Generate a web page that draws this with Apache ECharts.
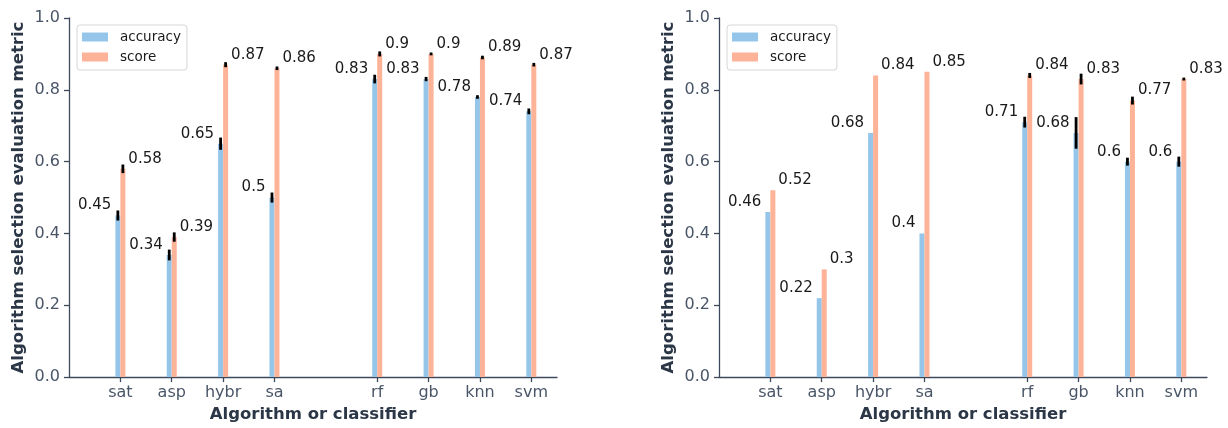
<!DOCTYPE html>
<html>
<head>
<meta charset="utf-8">
<script src="https://cdn.jsdelivr.net/npm/echarts@6/dist/echarts.min.js"></script>
<style>
  html, body { margin: 0; padding: 0; background: #ffffff; }
  #chart { width: 1228px; height: 428px; }
</style>
</head>
<body>
<div id="chart"></div>
<script>
// Two groups on the x axis: selection algorithms, then classifiers (one empty slot between them)
const algorithms = ['sat', 'asp', 'hybr', 'sa'];
const classifiers = ['rf', 'gb', 'knn', 'svm'];

// Left panel
const leftAccuracy    = [0.45, 0.34, 0.65, 0.50, 0.83, 0.83, 0.78, 0.74];
const leftAccuracyErr = [0.014, 0.015, 0.017, 0.014, 0.012, 0.006, 0.005, 0.008];
const leftScore       = [0.58, 0.39, 0.87, 0.86, 0.90, 0.90, 0.89, 0.87];
const leftScoreErr    = [0.012, 0.013, 0.007, 0.005, 0.007, 0.004, 0.005, 0.005];

// Right panel
const rightAccuracy    = [0.46, 0.22, 0.68, 0.40, 0.71, 0.68, 0.60, 0.60];
const rightAccuracyErr = [0, 0, 0, 0, 0.015, 0.044, 0.011, 0.014];
const rightScore       = [0.52, 0.30, 0.84, 0.85, 0.84, 0.83, 0.77, 0.83];
const rightScoreErr    = [0, 0, 0, 0, 0.007, 0.015, 0.011, 0.004];

const yTicks = [0.0, 0.2, 0.4, 0.6, 0.8, 1.0];

const seriesNames = ['accuracy', 'score'];
const yTitle = 'Algorithm selection evaluation metric';
const xTitle = 'Algorithm or classifier';

// Slot of each category on the numeric x axis
const categories = algorithms.concat(classifiers);
const slots = algorithms.map((_, i) => i + 1)
  .concat(classifiers.map((_, i) => algorithms.length + 2 + i));
const slotName = {};
slots.forEach((s, i) => { slotName[s] = categories[i]; });
const xMax = slots[slots.length - 1] + 0.5;

const BLUE = '#95c6ea';
const ORANGE = '#fdb398';
const AXIS = '#3e4a5b';
const TICK_TEXT = '#4a5668';
const TITLE_TEXT = '#2b3646';
const FONT = 'DejaVu Sans';
const BAR_W = 5;

const panels = [
  { acc: leftAccuracy, accErr: leftAccuracyErr, sc: leftScore, scErr: leftScoreErr, left: 69 },
  { acc: rightAccuracy, accErr: rightAccuracyErr, sc: rightScore, scErr: rightScoreErr, left: 719 }
];

const grids = [], xAxes = [], yAxes = [], legends = [], series = [];

function fmt(v) { return String(+v.toFixed(2)); }

panels.forEach((p, k) => {
  grids.push({ left: p.left, top: 18, width: 488, height: 362, containLabel: false });
  xAxes.push({
    type: 'value', gridIndex: k, min: 0, max: xMax,
    name: xTitle, nameLocation: 'middle', nameGap: 28,
    nameTextStyle: { fontFamily: FONT, fontSize: 16.5, fontWeight: 'bold', color: TITLE_TEXT },
    splitLine: { show: false },
    axisLine: { show: true, onZero: false, lineStyle: { color: AXIS, width: 1.3 } },
    axisTick: { show: true, length: 5, customValues: slots, lineStyle: { color: AXIS, width: 1.3 } },
    axisLabel: {
      customValues: slots, margin: 8,
      fontFamily: FONT, fontSize: 16, color: TICK_TEXT,
      formatter: v => slotName[v] || ''
    }
  });
  yAxes.push({
    type: 'value', gridIndex: k, min: 0, max: 1, interval: 0.2,
    name: yTitle, nameLocation: 'middle', nameGap: 42, nameRotate: 90,
    nameTextStyle: { fontFamily: FONT, fontSize: 16.5, fontWeight: 'bold', color: TITLE_TEXT },
    splitLine: { show: false },
    axisLine: { show: true, lineStyle: { color: AXIS, width: 1.3 } },
    axisTick: { show: true, length: 5, lineStyle: { color: AXIS, width: 1.3 } },
    axisLabel: {
      margin: 9, fontFamily: FONT, fontSize: 16, color: TICK_TEXT,
      formatter: v => yTicks.indexOf(+v.toFixed(1)) >= 0 ? v.toFixed(1) : ''
    }
  });
  legends.push({
    data: seriesNames, orient: 'vertical',
    left: p.left + 8, top: 25,
    itemWidth: 26, itemHeight: 9, itemGap: 4, icon: 'rect',
    padding: [4, 6, 5, 5],
    borderColor: '#d6d6d6', borderWidth: 1, borderRadius: 3,
    backgroundColor: 'rgba(255,255,255,0.8)',
    textStyle: { fontFamily: FONT, fontSize: 13.5, color: '#1a1a1a', padding: [0, 0, 0, 7], lineHeight: 16 },
    selectedMode: false
  });

  const sets = [
    { name: seriesNames[0], vals: p.acc, errs: p.accErr, color: BLUE, side: -1 },
    { name: seriesNames[1], vals: p.sc, errs: p.scErr, color: ORANGE, side: 1 }
  ];
  sets.forEach(s => {
    series.push({
      type: 'bar', name: s.name, xAxisIndex: k, yAxisIndex: k,
      barWidth: BAR_W, barGap: '0%',
      itemStyle: { color: s.color },
      data: s.vals.map((v, i) => [slots[i], v]),
      label: {
        show: true,
        position: s.side < 0 ? [-4, -10] : [BAR_W + 3, -10],
        align: s.side < 0 ? 'right' : 'left',
        verticalAlign: 'middle',
        fontFamily: FONT, fontSize: 15, color: '#1a1a1a',
        formatter: prm => fmt(prm.value[1])
      },
      emphasis: { disabled: true },
      animation: false
    });
    // Error bars drawn as short thick black segments on top of each bar
    series.push({
      type: 'custom', name: s.name + ' err', xAxisIndex: k, yAxisIndex: k,
      data: s.vals.map((v, i) => [slots[i], v, s.errs[i]]),
      renderItem: (params, api) => {
        const e = api.value(2);
        if (!e) return null;
        const x = api.value(0), y = api.value(1);
        const top = api.coord([x, y + e]);
        const bot = api.coord([x, y - e]);
        const cx = top[0] + s.side * BAR_W / 2;
        return {
          type: 'rect',
          shape: { x: cx - 1.4, y: top[1], width: 2.8, height: Math.max(bot[1] - top[1], 2.5) },
          style: { fill: '#000000' }
        };
      },
      z: 5, silent: true, animation: false
    });
  });
});

const chart = echarts.init(document.getElementById('chart'), null, { renderer: 'canvas' });
chart.setOption({
  backgroundColor: '#ffffff',
  animation: false,
  grid: grids, xAxis: xAxes, yAxis: yAxes, legend: legends, series: series
});
</script>
</body>
</html>
